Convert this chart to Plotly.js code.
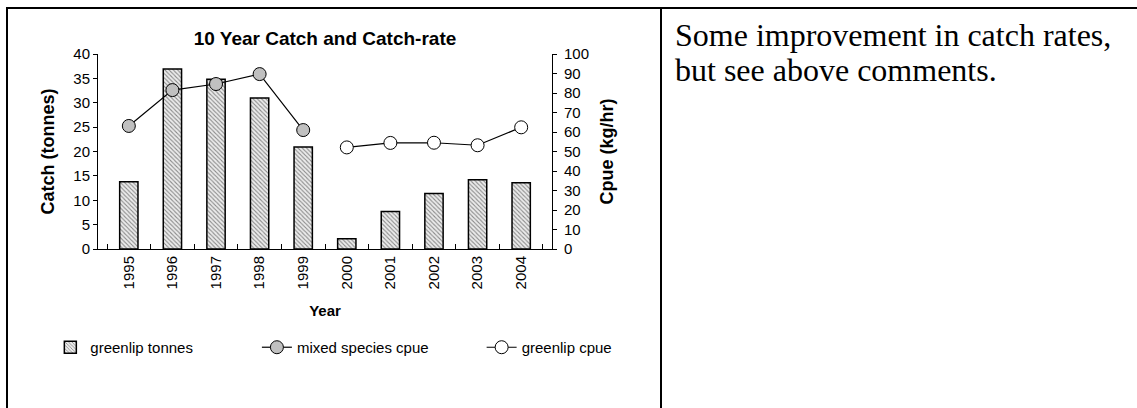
<!DOCTYPE html>
<html>
<head>
<meta charset="utf-8">
<script src="https://cdn.plot.ly/plotly-3.0.1.min.js"></script>
<style>
  html, body { margin: 0; padding: 0; background: #fff; }
  body { width: 1137px; height: 408px; overflow: hidden; position: relative; }
  .hline { position: absolute; background: #000; }
  #chart { position: absolute; left: 8px; top: 9px; width: 652px; height: 399px; }
  #note { position: absolute; left: 675px; top: 18px; width: 460px;
          font-family: "Liberation Serif", "Times New Roman", serif; font-size: 32px;
          line-height: 35px; color: #000; white-space: nowrap; }
</style>
</head>
<body>
<div class="hline" style="left:6px; top:7px; width:1131px; height:2px;"></div>
<div class="hline" style="left:6px; top:7px; width:2px; height:401px;"></div>
<div class="hline" style="left:660px; top:7px; width:2px; height:401px;"></div>
<div id="chart"></div>
<div id="note">Some improvement in catch rates,<br>but see above comments.</div>
<script>
const years = ["1995","1996","1997","1998","1999","2000","2001","2002","2003","2004"];
const greenlipTonnes = [13.8, 36.9, 34.8, 31.0, 20.9, 2.1, 7.7, 11.4, 14.2, 13.6];
const mixedSpeciesCpue = [63.1, 81.5, 84.6, 89.7, 61.0, null, null, null, null, null];
const greenlipCpue = [null, null, null, null, null, 52.1, 54.4, 54.5, 53.2, 62.4];

const FONT = "Liberation Sans, Arial, sans-serif";

const traces = [
  {
    type: "bar", name: "greenlip tonnes", x: years, y: greenlipTonnes,
    yaxis: "y", legend: "legend",
    marker: {
      color: "#e4e4e4",
      pattern: { shape: "\\", fgcolor: "#8a8a8a", bgcolor: "#ececec", size: 3, solidity: 0.35 },
      line: { color: "#000", width: 1.5 }
    },
    hoverinfo: "skip"
  },
  {
    type: "scatter", mode: "lines+markers", name: "mixed species cpue",
    x: years, y: mixedSpeciesCpue, yaxis: "y2", legend: "legend2",
    line: { color: "#000", width: 1.2 },
    marker: { symbol: "circle", size: 13, color: "#c0c0c0", line: { color: "#000", width: 1 } },
    connectgaps: false, hoverinfo: "skip"
  },
  {
    type: "scatter", mode: "lines+markers", name: "greenlip cpue",
    x: years, y: greenlipCpue, yaxis: "y2", legend: "legend3",
    line: { color: "#000", width: 1.2 },
    marker: { symbol: "circle", size: 13, color: "#ffffff", line: { color: "#000", width: 1 } },
    connectgaps: false, hoverinfo: "skip"
  }
];

const legendBase = {
  orientation: "h", yanchor: "middle", xanchor: "left", y: -0.505,
  bgcolor: "rgba(0,0,0,0)", borderwidth: 0,
  font: { family: FONT, size: 15, color: "#000" }
};

const layout = {
  width: 652, height: 399,
  margin: { l: 90, r: 108, t: 45, b: 159, pad: 0 },
  paper_bgcolor: "#fff", plot_bgcolor: "#fff",
  font: { family: FONT, color: "#000" },
  bargap: 0.58,
  title: {
    text: "10 Year Catch and Catch-rate",
    font: { family: FONT, size: 19, weight: "bold", color: "#000" },
    x: 0.5, xref: "paper", xanchor: "center",
    y: 1 - 29 / 399, yref: "container", yanchor: "middle"
  },
  xaxis: {
    type: "category", categoryorder: "array", categoryarray: years,
    tickangle: -90, ticks: "inside", tickson: "boundaries", ticklen: 5, tickwidth: 1, tickcolor: "#000",
    showline: true, linecolor: "#000", linewidth: 1, showgrid: false, zeroline: false,
    tickfont: { family: FONT, size: 15, color: "#000" },
    title: { text: "Year", font: { family: FONT, size: 15, weight: "bold", color: "#000" }, standoff: 17 }
  },
  yaxis: {
    range: [0, 40], dtick: 5, tick0: 0,
    ticks: "outside", ticklen: 4, tickwidth: 1, tickcolor: "#000",
    showline: true, linecolor: "#000", linewidth: 1, showgrid: false, zeroline: false,
    tickfont: { family: FONT, size: 15, color: "#000" },
    title: { text: "Catch (tonnes)", font: { family: FONT, size: 18, weight: "bold", color: "#000" }, standoff: 14 }
  },
  yaxis2: {
    range: [0, 100], dtick: 10, tick0: 0, overlaying: "y", side: "right",
    ticks: "outside", ticklen: 4, tickwidth: 1, tickcolor: "#000",
    showline: true, linecolor: "#000", linewidth: 1, showgrid: false, zeroline: false,
    tickfont: { family: FONT, size: 15, color: "#000" },
    ticklabelstandoff: 4,
    title: { text: "Cpue (kg/hr)", font: { family: FONT, size: 18, weight: "bold", color: "#000" }, standoff: 12 }
  },
  legend: Object.assign({}, legendBase, { x: -0.105 }),
  legend2: Object.assign({}, legendBase, { x: 0.35 }),
  legend3: Object.assign({}, legendBase, { x: 0.845 }),
  showlegend: true
};

Plotly.newPlot("chart", traces, layout, { displayModeBar: false, staticPlot: true });
</script>
</body>
</html>
